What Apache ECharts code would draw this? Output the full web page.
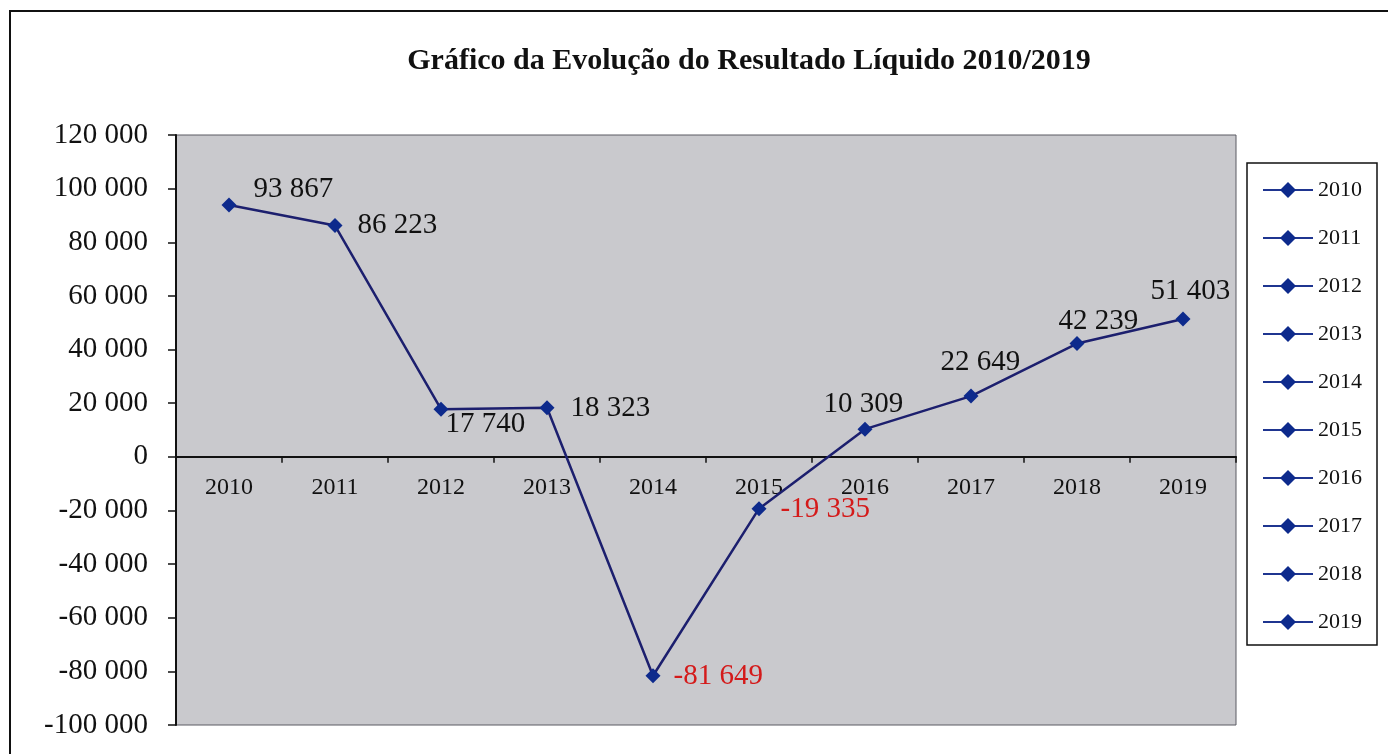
<!DOCTYPE html>
<html><head><meta charset="utf-8">
<script src="https://cdn.jsdelivr.net/npm/echarts@6/dist/echarts.min.js"></script>
<style>html,body{margin:0;padding:0;background:#fff}#c{width:1388px;height:754px}</style>
</head><body><div id="c"></div>
<script>
const titleText = 'Gráfico da Evolução do Resultado Líquido 2010/2019';
const years = ['2010','2011','2012','2013','2014','2015','2016','2017','2018','2019'];
const resultado = [93867, 86223, 17740, 18323, -81649, -19335, 10309, 22649, 42239, 51403];
const yTicks = {min: -100000, max: 120000, interval: 20000};
// label offsets (style only)
const labelOffsets = [[12,-16],[10,0],[-8,15],[11,1],[8,1],[9,1],[-54,-25],[-43,-34],[-31,-22],[-45,-28]];

const serif = '"Liberation Serif", "Times New Roman", serif';
const fmt = v => {
  const s = Math.abs(v).toString().replace(/\B(?=(\d{3})+(?!\d))/g, ' ');
  return (v < 0 ? '-' : '') + s;
};
const lineColor = '#1c1f6e';
const markColor = '#0d2a8c';
const gridTop = 135, gridBottom = 29, chartH = 754;
const plotH = chartH - gridTop - gridBottom;
// distance from plot bottom to the zero line (axis moved to zero)
const zeroShift = plotH * (0 - yTicks.min) / (yTicks.max - yTicks.min);

const chart = echarts.init(document.getElementById('c'));
const dataItems = resultado.map((v, i) => ({
  value: v,
  label: { offset: labelOffsets[i], color: v < 0 ? '#d41a1a' : '#111' }
}));
const legendSeries = years.map(y => ({
  name: y, type: 'line', data: [],
  symbol: 'diamond', symbolSize: 14,
  lineStyle: {color: '#1f3590', width: 3},
  itemStyle: {color: markColor}
}));
chart.setOption({
  animation: false,
  backgroundColor: '#ffffff',
  graphic: [{
    type: 'rect', z: -10,
    shape: {x: 10, y: 11, width: 1500, height: 1000},
    style: {fill: 'none', stroke: '#111', lineWidth: 2}
  }],
  title: {
    text: titleText, left: 744, top: 41, textAlign: 'center',
    textStyle: {fontFamily: serif, fontWeight: 'bold', fontSize: 30, color: '#111'}
  },
  legend: {
    orient: 'vertical', left: 1247, top: 163,
    data: years,
    padding: [16, 15, 12, 15],
    itemGap: 26, itemWidth: 50, itemHeight: 20,
    borderColor: '#111', borderWidth: 1.5,
    backgroundColor: '#fff',
    textStyle: {fontFamily: serif, fontSize: 22, color: '#111'}
  },
  grid: {
    left: 176, top: gridTop, right: 152, bottom: gridBottom,
    outerBoundsMode: 'none', containLabel: false,
    show: true, backgroundColor: '#c9c9cd', borderColor: '#5a5a62', borderWidth: 1
  },
  xAxis: {
    type: 'category', data: years, boundaryGap: true,
    offset: -zeroShift,
    axisLine: {onZero: false, lineStyle: {color: '#111', width: 2}},
    axisTick: {show: true, length: 6, lineStyle: {color: '#111', width: 1.5}},
    axisLabel: {fontFamily: serif, fontSize: 24, color: '#111', margin: 19},
    splitLine: {show: false}
  },
  yAxis: {
    type: 'value', min: yTicks.min, max: yTicks.max, interval: yTicks.interval,
    axisLine: {show: true, lineStyle: {color: '#111', width: 2}},
    axisTick: {show: true, length: 8, lineStyle: {color: '#111', width: 1.5}},
    axisLabel: {fontFamily: serif, fontSize: 29, color: '#111', margin: 28, formatter: fmt},
    splitLine: {show: false}
  },
  series: [{
    name: 'Resultado Líquido', type: 'line', data: dataItems,
    symbol: 'diamond', symbolSize: 15,
    lineStyle: {color: lineColor, width: 2.5},
    itemStyle: {color: markColor},
    label: {
      show: true, position: 'right', distance: 5,
      fontFamily: serif, fontSize: 29,
      formatter: p => fmt(p.value)
    },
    z: 5
  }].concat(legendSeries)
});
</script></body></html>
